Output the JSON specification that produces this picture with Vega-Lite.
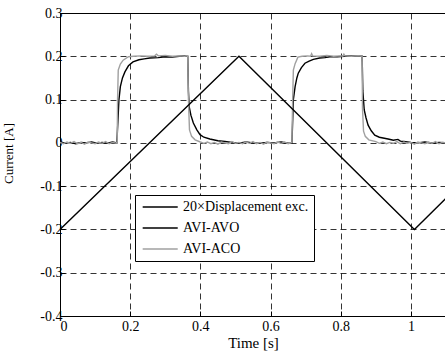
{
  "$schema": "https://vega.github.io/schema/vega-lite/v6.json",
  "autosize": "none",
  "width": 386,
  "height": 303,
  "padding": {"left": 60, "top": 13, "right": 0, "bottom": 45},
  "background": "white",
  "config": {
    "font": "Liberation Serif",
    "view": {"stroke": "black", "strokeWidth": 1},
    "axis": {
      "domainColor": "black",
      "tickColor": "black",
      "tickSize": -5,
      "gridColor": "black",
      "gridDash": [6, 4],
      "gridWidth": 0.8,
      "gridOpacity": 1
    }
  },
  "data": {
    "values": [
      {"s": "AVI-AVO", "t": 0, "v": 0.002}, {"s": "AVI-AVO", "t": 0.015, "v": -0.001}, {"s": "AVI-AVO", "t": 0.03, "v": 0.001}, {"s": "AVI-AVO", "t": 0.045, "v": -0.002}, {"s": "AVI-AVO", "t": 0.06, "v": 0.001}, {"s": "AVI-AVO", "t": 0.075, "v": 0}, {"s": "AVI-AVO", "t": 0.09, "v": 0.002}, {"s": "AVI-AVO", "t": 0.105, "v": -0.001}, {"s": "AVI-AVO", "t": 0.12, "v": 0.001}, {"s": "AVI-AVO", "t": 0.135, "v": -0.001}, {"s": "AVI-AVO", "t": 0.15, "v": 0.002}, {"s": "AVI-AVO", "t": 0.162, "v": 0},
      {"s": "AVI-AVO", "t": 0.165, "v": 0.05}, {"s": "AVI-AVO", "t": 0.168, "v": 0.1}, {"s": "AVI-AVO", "t": 0.172, "v": 0.13}, {"s": "AVI-AVO", "t": 0.178, "v": 0.15}, {"s": "AVI-AVO", "t": 0.185, "v": 0.164}, {"s": "AVI-AVO", "t": 0.195, "v": 0.178}, {"s": "AVI-AVO", "t": 0.208, "v": 0.187}, {"s": "AVI-AVO", "t": 0.225, "v": 0.192}, {"s": "AVI-AVO", "t": 0.24, "v": 0.194}, {"s": "AVI-AVO", "t": 0.256, "v": 0.196}, {"s": "AVI-AVO", "t": 0.28, "v": 0.197}, {"s": "AVI-AVO", "t": 0.3, "v": 0.199}, {"s": "AVI-AVO", "t": 0.32, "v": 0.198}, {"s": "AVI-AVO", "t": 0.34, "v": 0.2}, {"s": "AVI-AVO", "t": 0.355, "v": 0.201}, {"s": "AVI-AVO", "t": 0.364, "v": 0.2},
      {"s": "AVI-AVO", "t": 0.366, "v": 0.12}, {"s": "AVI-AVO", "t": 0.368, "v": 0.084}, {"s": "AVI-AVO", "t": 0.373, "v": 0.064}, {"s": "AVI-AVO", "t": 0.38, "v": 0.046}, {"s": "AVI-AVO", "t": 0.39, "v": 0.03}, {"s": "AVI-AVO", "t": 0.399, "v": 0.019}, {"s": "AVI-AVO", "t": 0.41, "v": 0.013}, {"s": "AVI-AVO", "t": 0.427, "v": 0.009}, {"s": "AVI-AVO", "t": 0.45, "v": 0.005}, {"s": "AVI-AVO", "t": 0.47, "v": 0.003}, {"s": "AVI-AVO", "t": 0.49, "v": 0.001}, {"s": "AVI-AVO", "t": 0.51, "v": -0.001}, {"s": "AVI-AVO", "t": 0.53, "v": 0.002}, {"s": "AVI-AVO", "t": 0.55, "v": 0}, {"s": "AVI-AVO", "t": 0.57, "v": -0.001}, {"s": "AVI-AVO", "t": 0.59, "v": 0.001}, {"s": "AVI-AVO", "t": 0.61, "v": 0}, {"s": "AVI-AVO", "t": 0.63, "v": 0.002}, {"s": "AVI-AVO", "t": 0.65, "v": -0.001}, {"s": "AVI-AVO", "t": 0.661, "v": 0},
      {"s": "AVI-AVO", "t": 0.663, "v": 0.05}, {"s": "AVI-AVO", "t": 0.665, "v": 0.1}, {"s": "AVI-AVO", "t": 0.67, "v": 0.13}, {"s": "AVI-AVO", "t": 0.675, "v": 0.15}, {"s": "AVI-AVO", "t": 0.679, "v": 0.161}, {"s": "AVI-AVO", "t": 0.688, "v": 0.174}, {"s": "AVI-AVO", "t": 0.698, "v": 0.184}, {"s": "AVI-AVO", "t": 0.71, "v": 0.189}, {"s": "AVI-AVO", "t": 0.722, "v": 0.193}, {"s": "AVI-AVO", "t": 0.74, "v": 0.196}, {"s": "AVI-AVO", "t": 0.755, "v": 0.197}, {"s": "AVI-AVO", "t": 0.769, "v": 0.199}, {"s": "AVI-AVO", "t": 0.79, "v": 0.199}, {"s": "AVI-AVO", "t": 0.81, "v": 0.2}, {"s": "AVI-AVO", "t": 0.83, "v": 0.201}, {"s": "AVI-AVO", "t": 0.85, "v": 0.2}, {"s": "AVI-AVO", "t": 0.861, "v": 0.2},
      {"s": "AVI-AVO", "t": 0.863, "v": 0.12}, {"s": "AVI-AVO", "t": 0.867, "v": 0.076}, {"s": "AVI-AVO", "t": 0.872, "v": 0.058}, {"s": "AVI-AVO", "t": 0.878, "v": 0.041}, {"s": "AVI-AVO", "t": 0.887, "v": 0.028}, {"s": "AVI-AVO", "t": 0.897, "v": 0.018}, {"s": "AVI-AVO", "t": 0.91, "v": 0.013}, {"s": "AVI-AVO", "t": 0.935, "v": 0.009}, {"s": "AVI-AVO", "t": 0.95, "v": 0.006}, {"s": "AVI-AVO", "t": 0.963, "v": 0.008}, {"s": "AVI-AVO", "t": 0.97, "v": 0.004}, {"s": "AVI-AVO", "t": 0.98, "v": 0.003}, {"s": "AVI-AVO", "t": 1.0, "v": 0.001}, {"s": "AVI-AVO", "t": 1.02, "v": 0}, {"s": "AVI-AVO", "t": 1.04, "v": 0.002}, {"s": "AVI-AVO", "t": 1.06, "v": -0.001}, {"s": "AVI-AVO", "t": 1.08, "v": 0.001}, {"s": "AVI-AVO", "t": 1.1, "v": 0},

      {"s": "AVI-ACO", "t": 0, "v": 0.001}, {"s": "AVI-ACO", "t": 0.01, "v": -0.002}, {"s": "AVI-ACO", "t": 0.02, "v": 0.002}, {"s": "AVI-ACO", "t": 0.03, "v": -0.001}, {"s": "AVI-ACO", "t": 0.04, "v": 0.003}, {"s": "AVI-ACO", "t": 0.05, "v": -0.002}, {"s": "AVI-ACO", "t": 0.06, "v": 0.001}, {"s": "AVI-ACO", "t": 0.07, "v": -0.003}, {"s": "AVI-ACO", "t": 0.08, "v": 0.002}, {"s": "AVI-ACO", "t": 0.09, "v": 0}, {"s": "AVI-ACO", "t": 0.1, "v": -0.002}, {"s": "AVI-ACO", "t": 0.11, "v": 0.002}, {"s": "AVI-ACO", "t": 0.12, "v": -0.001}, {"s": "AVI-ACO", "t": 0.13, "v": 0.003}, {"s": "AVI-ACO", "t": 0.14, "v": -0.002}, {"s": "AVI-ACO", "t": 0.15, "v": 0.001}, {"s": "AVI-ACO", "t": 0.16, "v": -0.001}, {"s": "AVI-ACO", "t": 0.163, "v": 0.002},
      {"s": "AVI-ACO", "t": 0.164, "v": 0.1}, {"s": "AVI-ACO", "t": 0.166, "v": 0.168}, {"s": "AVI-ACO", "t": 0.172, "v": 0.182}, {"s": "AVI-ACO", "t": 0.18, "v": 0.191}, {"s": "AVI-ACO", "t": 0.195, "v": 0.199}, {"s": "AVI-ACO", "t": 0.21, "v": 0.2}, {"s": "AVI-ACO", "t": 0.23, "v": 0.201}, {"s": "AVI-ACO", "t": 0.25, "v": 0.2}, {"s": "AVI-ACO", "t": 0.27, "v": 0.201}, {"s": "AVI-ACO", "t": 0.275, "v": 0.205}, {"s": "AVI-ACO", "t": 0.28, "v": 0.201}, {"s": "AVI-ACO", "t": 0.3, "v": 0.202}, {"s": "AVI-ACO", "t": 0.32, "v": 0.2}, {"s": "AVI-ACO", "t": 0.34, "v": 0.201}, {"s": "AVI-ACO", "t": 0.355, "v": 0.2}, {"s": "AVI-ACO", "t": 0.364, "v": 0.201},
      {"s": "AVI-ACO", "t": 0.366, "v": 0.1}, {"s": "AVI-ACO", "t": 0.369, "v": 0.03}, {"s": "AVI-ACO", "t": 0.375, "v": 0.015}, {"s": "AVI-ACO", "t": 0.385, "v": 0.007}, {"s": "AVI-ACO", "t": 0.4, "v": 0.002}, {"s": "AVI-ACO", "t": 0.41, "v": -0.001}, {"s": "AVI-ACO", "t": 0.42, "v": 0.002}, {"s": "AVI-ACO", "t": 0.43, "v": -0.002}, {"s": "AVI-ACO", "t": 0.44, "v": 0.001}, {"s": "AVI-ACO", "t": 0.45, "v": -0.003}, {"s": "AVI-ACO", "t": 0.46, "v": 0.002}, {"s": "AVI-ACO", "t": 0.47, "v": 0}, {"s": "AVI-ACO", "t": 0.48, "v": -0.002}, {"s": "AVI-ACO", "t": 0.49, "v": 0.003}, {"s": "AVI-ACO", "t": 0.5, "v": -0.001}, {"s": "AVI-ACO", "t": 0.51, "v": 0.001}, {"s": "AVI-ACO", "t": 0.52, "v": -0.002}, {"s": "AVI-ACO", "t": 0.53, "v": 0.002}, {"s": "AVI-ACO", "t": 0.54, "v": -0.001}, {"s": "AVI-ACO", "t": 0.55, "v": 0.003}, {"s": "AVI-ACO", "t": 0.56, "v": -0.002}, {"s": "AVI-ACO", "t": 0.57, "v": 0.001}, {"s": "AVI-ACO", "t": 0.58, "v": -0.003}, {"s": "AVI-ACO", "t": 0.59, "v": 0.002}, {"s": "AVI-ACO", "t": 0.6, "v": 0}, {"s": "AVI-ACO", "t": 0.61, "v": -0.002}, {"s": "AVI-ACO", "t": 0.62, "v": 0.002}, {"s": "AVI-ACO", "t": 0.63, "v": -0.001}, {"s": "AVI-ACO", "t": 0.64, "v": 0.002}, {"s": "AVI-ACO", "t": 0.65, "v": -0.002}, {"s": "AVI-ACO", "t": 0.661, "v": 0.001},
      {"s": "AVI-ACO", "t": 0.663, "v": 0.1}, {"s": "AVI-ACO", "t": 0.665, "v": 0.168}, {"s": "AVI-ACO", "t": 0.67, "v": 0.183}, {"s": "AVI-ACO", "t": 0.678, "v": 0.198}, {"s": "AVI-ACO", "t": 0.69, "v": 0.2}, {"s": "AVI-ACO", "t": 0.705, "v": 0.201}, {"s": "AVI-ACO", "t": 0.714, "v": 0.2}, {"s": "AVI-ACO", "t": 0.717, "v": 0.206}, {"s": "AVI-ACO", "t": 0.72, "v": 0.201}, {"s": "AVI-ACO", "t": 0.74, "v": 0.2}, {"s": "AVI-ACO", "t": 0.76, "v": 0.202}, {"s": "AVI-ACO", "t": 0.78, "v": 0.2}, {"s": "AVI-ACO", "t": 0.8, "v": 0.201}, {"s": "AVI-ACO", "t": 0.806, "v": 0.2}, {"s": "AVI-ACO", "t": 0.809, "v": 0.205}, {"s": "AVI-ACO", "t": 0.812, "v": 0.201}, {"s": "AVI-ACO", "t": 0.83, "v": 0.2}, {"s": "AVI-ACO", "t": 0.85, "v": 0.201}, {"s": "AVI-ACO", "t": 0.861, "v": 0.2},
      {"s": "AVI-ACO", "t": 0.862, "v": 0.08}, {"s": "AVI-ACO", "t": 0.865, "v": 0.027}, {"s": "AVI-ACO", "t": 0.87, "v": 0.015}, {"s": "AVI-ACO", "t": 0.88, "v": 0.007}, {"s": "AVI-ACO", "t": 0.9, "v": 0.003}, {"s": "AVI-ACO", "t": 0.91, "v": -0.001}, {"s": "AVI-ACO", "t": 0.92, "v": 0.002}, {"s": "AVI-ACO", "t": 0.93, "v": -0.002}, {"s": "AVI-ACO", "t": 0.94, "v": 0.001}, {"s": "AVI-ACO", "t": 0.95, "v": -0.001}, {"s": "AVI-ACO", "t": 0.96, "v": 0.003}, {"s": "AVI-ACO", "t": 0.97, "v": -0.002}, {"s": "AVI-ACO", "t": 0.98, "v": 0.002}, {"s": "AVI-ACO", "t": 0.99, "v": -0.001}, {"s": "AVI-ACO", "t": 1.0, "v": 0.001}, {"s": "AVI-ACO", "t": 1.01, "v": -0.003}, {"s": "AVI-ACO", "t": 1.02, "v": 0.002}, {"s": "AVI-ACO", "t": 1.03, "v": 0}, {"s": "AVI-ACO", "t": 1.04, "v": -0.002}, {"s": "AVI-ACO", "t": 1.05, "v": 0.002}, {"s": "AVI-ACO", "t": 1.06, "v": -0.001}, {"s": "AVI-ACO", "t": 1.07, "v": 0.003}, {"s": "AVI-ACO", "t": 1.08, "v": -0.002}, {"s": "AVI-ACO", "t": 1.09, "v": 0.001}, {"s": "AVI-ACO", "t": 1.1, "v": 0},

      {"s": "20×Displacement exc.", "t": 0, "v": -0.2}, {"s": "20×Displacement exc.", "t": 0.51, "v": 0.2}, {"s": "20×Displacement exc.", "t": 1.01, "v": -0.2}, {"s": "20×Displacement exc.", "t": 1.1, "v": -0.128}
    ]
  },
  "mark": {"type": "line", "strokeWidth": 1.4, "clip": true},
  "encoding": {
    "x": {
      "field": "t", "type": "quantitative", "title": "Time [s]",
      "scale": {"domain": [0, 1.1], "nice": false, "zero": false},
      "axis": {
        "values": [0, 0.2, 0.4, 0.6, 0.8, 1],
        "format": "~g",
        "labelFont": "Liberation Serif", "labelFontSize": 14, "labelColor": "#000000",
        "titleFontSize": 15, "titleFont": "Liberation Serif", "titleFontWeight": "normal", "titleColor": "black",
        "labelPadding": 8, "titlePadding": 2
      }
    },
    "y": {
      "field": "v", "type": "quantitative", "title": "Current [A]",
      "scale": {"domain": [-0.4, 0.3], "nice": false, "zero": false},
      "axis": {
        "values": [-0.4, -0.3, -0.2, -0.1, 0, 0.1, 0.2, 0.3],
        "labelExpr": "replace(format(datum.value, '~g'), '\u2212', '-')",
        "labelFont": "Liberation Serif", "labelFontSize": 14, "labelColor": "#000000",
        "titleFontSize": 13, "titleFont": "Liberation Serif", "titleFontWeight": "normal", "titleColor": "black",
        "labelPadding": 3, "titleX": -45, "titleY": 140
      }
    },
    "color": {
      "field": "s", "type": "nominal",
      "scale": {"domain": ["20×Displacement exc.", "AVI-AVO", "AVI-ACO"], "range": ["black", "black", "#a0a0a0"]},
      "legend": {
        "title": null, "orient": "none", "legendX": 75, "legendY": 182,
        "strokeColor": "black", "fillColor": "white", "padding": 5,
        "labelFont": "Liberation Serif", "labelFontSize": 14, "labelColor": "black",
        "symbolType": "M-0.72,0H5.12", "symbolSize": 144, "symbolStrokeWidth": 1.5,
        "labelOffset": 29, "rowPadding": 7
      }
    }
  }
}
